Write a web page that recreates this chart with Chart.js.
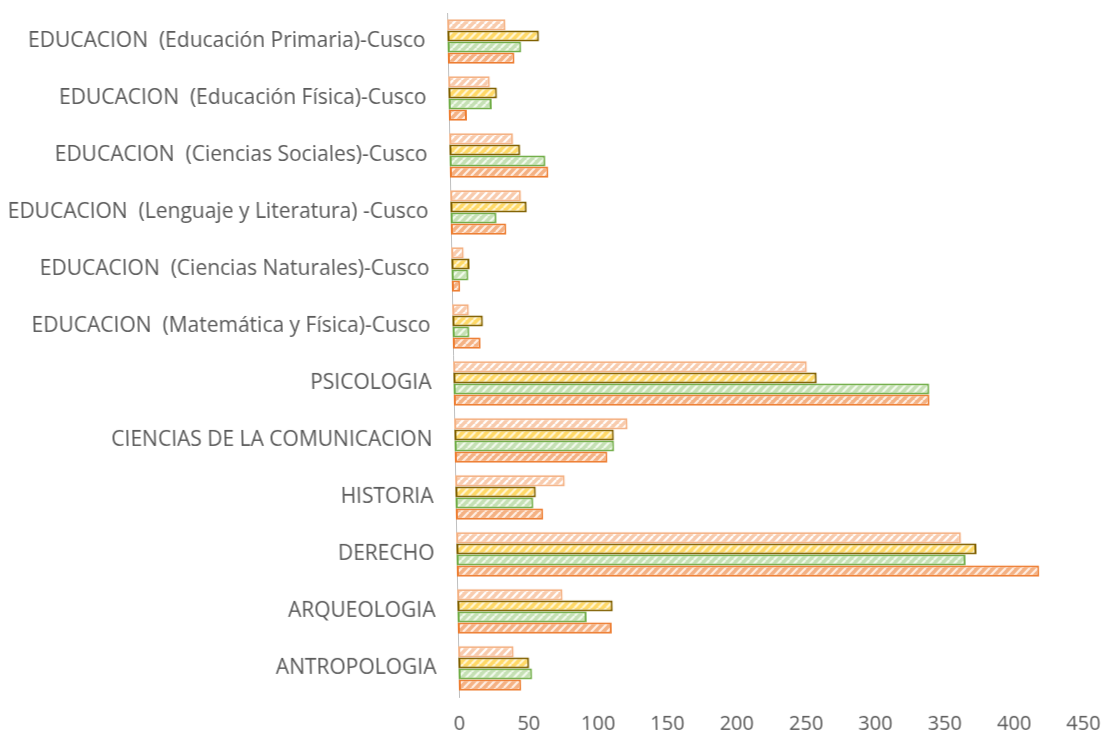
<!DOCTYPE html>
<html>
<head>
<meta charset="utf-8">
<script src="https://cdn.jsdelivr.net/npm/chart.js@4/dist/chart.umd.min.js"></script>
<style>
html,body{margin:0;padding:0;background:#fff;}
#wrap{width:1110px;height:743px;position:relative;overflow:hidden;}
#c{transform:skewX(1deg);transform-origin:0 696px;}
</style>
</head>
<body>
<div id="wrap"><canvas id="c" width="1110" height="743"></canvas></div>
<script>
const categories = [
  "EDUCACION  (Educación Primaria)-Cusco",
  "EDUCACION  (Educación Física)-Cusco",
  "EDUCACION  (Ciencias Sociales)-Cusco",
  "EDUCACION  (Lenguaje y Literatura) -Cusco",
  "EDUCACION  (Ciencias Naturales)-Cusco",
  "EDUCACION  (Matemática y Física)-Cusco",
  "PSICOLOGIA",
  "CIENCIAS DE LA COMUNICACION",
  "HISTORIA",
  "DERECHO",
  "ARQUEOLOGIA",
  "ANTROPOLOGIA"
];
const series1 = [42, 30, 46, 51, 9, 12, 255, 125, 79, 364, 76, 40];
const series2 = [66, 35, 51, 55, 13, 22, 262, 115, 58, 375, 112, 51];
const series3 = [53, 31, 69, 33, 12, 12, 343, 115, 56, 367, 93, 53];
const series4 = [48, 13, 71, 40, 6, 20, 343, 110, 63, 420, 111, 45];
const xTicks = [0, 50, 100, 150, 200, 250, 300, 350, 400, 450];

function stripes(bg, fg) {
  const s = 8;
  const cv = document.createElement('canvas');
  cv.width = s; cv.height = s;
  const g = cv.getContext('2d');
  g.fillStyle = bg; g.fillRect(0, 0, s, s);
  g.strokeStyle = fg; g.lineWidth = 2.2;
  g.beginPath();
  for (let k = -s; k <= 2 * s; k += s) {
    g.moveTo(k, s); g.lineTo(k + s, 0);
  }
  g.stroke();
  return g.createPattern(cv, 'repeat');
}

const ctx = document.getElementById('c').getContext('2d');
const font = "'Open Sans', sans-serif";

new Chart(ctx, {
  type: 'bar',
  data: {
    labels: categories,
    datasets: [
      { data: series1, backgroundColor: stripes('#F8CBAD', '#FFFFFF'), borderColor: '#F4B183' },
      { data: series2, backgroundColor: stripes('#FFD966', '#FFF6D6'), borderColor: '#806000' },
      { data: series3, backgroundColor: stripes('#C5E0B4', '#F2FAEC'), borderColor: '#70AD47' },
      { data: series4, backgroundColor: stripes('#F4B183', '#FFEEE3'), borderColor: '#ED7D31' }
    ]
  },
  options: {
    indexAxis: 'y',
    responsive: false,
    animation: false,
    layout: { padding: { top: 13, right: 27, bottom: 0, left: 0 } },
    plugins: { legend: { display: false }, tooltip: { enabled: false } },
    datasets: { bar: { categoryPercentage: 0.78, barPercentage: 1.0, borderWidth: 2, borderSkipped: false } },
    scales: {
      x: {
        min: 0, max: 450,
        afterBuildTicks: s => { s.ticks = xTicks.map(v => ({ value: v })); },
        grid: { display: false, drawTicks: false },
        border: { display: false },
        ticks: { color: '#595959', font: { family: font, size: 20 }, padding: 15 },
        afterFit: s => { s.height = 46; s.paddingLeft = 0; s.paddingRight = 0; }
      },
      y: {
        grid: { display: false, drawTicks: false },
        border: { display: true, color: '#BFBFBF', width: 1 },
        ticks: { color: '#595959', font: { family: font, size: 21 }, padding: 22, autoSkip: false },
        afterFit: s => { s.width = 459; s.paddingTop = 0; s.paddingBottom = 0; }
      }
    }
  }
});
</script>
</body>
</html>
